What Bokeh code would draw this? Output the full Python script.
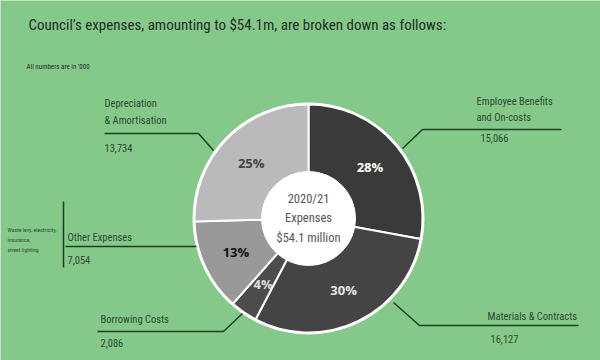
import math
from bokeh.plotting import figure
from bokeh.models import Range1d, ColumnDataSource
from bokeh.core.properties import value
from bokeh.embed import file_html
from bokeh.resources import INLINE

# ---- data ----
categories = ["Employee Benefits\nand On-costs", "Materials & Contracts", "Borrowing Costs",
              "Other Expenses", "Depreciation\n& Amortisation"]
amounts = [15066, 16127, 2086, 7054, 13734]
amount_labels = ["15,066", "16,127", "2,086", "7,054", "13,734"]
pct_labels = ["28%", "30%", "4%", "13%", "25%"]
slice_colors = ["#3a3a3a", "#444444", "#4c4c4c", "#999999", "#bababa"]
pct_colors = ["#ffffff", "#e6e6e6", "#e0e0e0", "#111111", "#444444"]
title_text = "Council\u2019s expenses, amounting to $54.1m, are broken down as follows:"
note_text = "All numbers are in  \u2019000"
center_lines = ["2020/21", "Expenses", "$54.1 million"]
side_note = ["Waste levy, electricity,", "insurance,", "street lighting"]

BG = "#84c98a"
INK = "#1d3f20"
TXT = "#2c4a2e"
COND = "Roboto Condensed"

W, H = 600, 360
p = figure(width=W, height=H, output_backend="svg", toolbar_location=None,
           x_range=Range1d(0, W), y_range=Range1d(0, H), min_border=0)
p.axis.visible = False
p.grid.visible = False
p.outline_line_color = None
p.background_fill_color = BG
p.border_fill_color = BG

def X(rx):
    return rx
def Y(ry):
    return H - ry

# ---- donut ----
cx, cy = X(308), Y(218)
R_OUT, R_IN, R_LAB = 114, 47, 80
total = sum(amounts)
starts, ends, mids = [], [], []
a = math.pi / 2
for v in amounts:
    sweep = 2 * math.pi * v / total
    starts.append(a - sweep)
    ends.append(a)
    mids.append(a - sweep / 2)
    a -= sweep

src = ColumnDataSource(dict(start=starts, end=ends, color=slice_colors,
                            x=[cx] * len(amounts), y=[cy] * len(amounts)))
p.wedge(x="x", y="y", radius=R_OUT, start_angle="start", end_angle="end",
        fill_color="color", line_color="white", line_width=2, source=src)
p.circle(x=[cx], y=[cy], radius=R_OUT + 1, fill_color=None, line_color="white", line_width=2)
p.circle(x=[cx], y=[cy], radius=R_IN, fill_color="white", line_color="white")

lx = [cx + R_LAB * math.cos(m) for m in mids]
ly = [cy + R_LAB * math.sin(m) for m in mids]
p.text(x=lx, y=ly, text=pct_labels, text_color=pct_colors, text_font=value("Open Sans"),
       text_font_style="bold", text_font_size="13px", text_align="center", text_baseline="middle")

p.text(x=[cx] * 3, y=[Y(198), Y(217), Y(237)], text=center_lines, text_color="#555555",
       text_font=value(COND), text_font_size="12.5px", text_align="center", text_baseline="middle")

# ---- titles ----
p.text(x=[X(28)], y=[Y(24)], text=[title_text], text_color="#1e2e1f", text_font=value(COND),
       text_font_size="15px", text_align="left", text_baseline="middle")
p.text(x=[X(26)], y=[Y(66)], text=[note_text], text_color="#1e2e1f", text_font=value(COND),
       text_font_size="7px", text_align="left", text_baseline="middle")

# ---- callouts ----
leaders = [
    ([561, 422], 129, (402, 148)),   # employee
    ([578, 419], 325, (393, 302)),   # materials
    ([97, 223], 331, (242, 313)),    # borrowing
    ([65, 196], 246, None),          # other
    ([104, 198], 133, (213, 150)),   # depreciation
]
for (xs, yy, d) in leaders:
    px = [X(xs[0]), X(xs[1])]
    py = [Y(yy), Y(yy)]
    if d is not None:
        px.append(X(d[0]))
        py.append(Y(d[1]))
    p.line(px, py, line_color=INK, line_width=1.5)
p.line([X(63), X(63)], [Y(201), Y(267)], line_color=INK, line_width=1.5)

name_pos = [(476, [101, 117]), (487, [316]), (100, [319]), (67, [237]), (104, [103, 120])]
val_pos = [(480, 137), (490, 338), (100, 342), (67, 259), (104, 147)]
for i, cat in enumerate(categories):
    lines = cat.split("\n")
    nx, nys = name_pos[i]
    p.text(x=[X(nx)] * len(lines), y=[Y(v) for v in nys], text=lines, text_color=TXT,
           text_font=value(COND), text_font_size="10.5px", text_align="left", text_baseline="middle")
    vx, vy = val_pos[i]
    p.text(x=[X(vx)], y=[Y(vy)], text=[amount_labels[i]], text_color=TXT,
           text_font=value(COND), text_font_size="10.5px", text_align="left", text_baseline="middle")

p.text(x=[X(7)] * 3, y=[Y(229), Y(239), Y(249)], text=side_note, text_color=TXT,
       text_font=value(COND), text_font_size="5.7px", text_align="left", text_baseline="middle")

html = file_html(p, INLINE)
html = html.replace("<body>", '<body style="background:%s">' % BG, 1)
open("out.html", "w").write(html)
